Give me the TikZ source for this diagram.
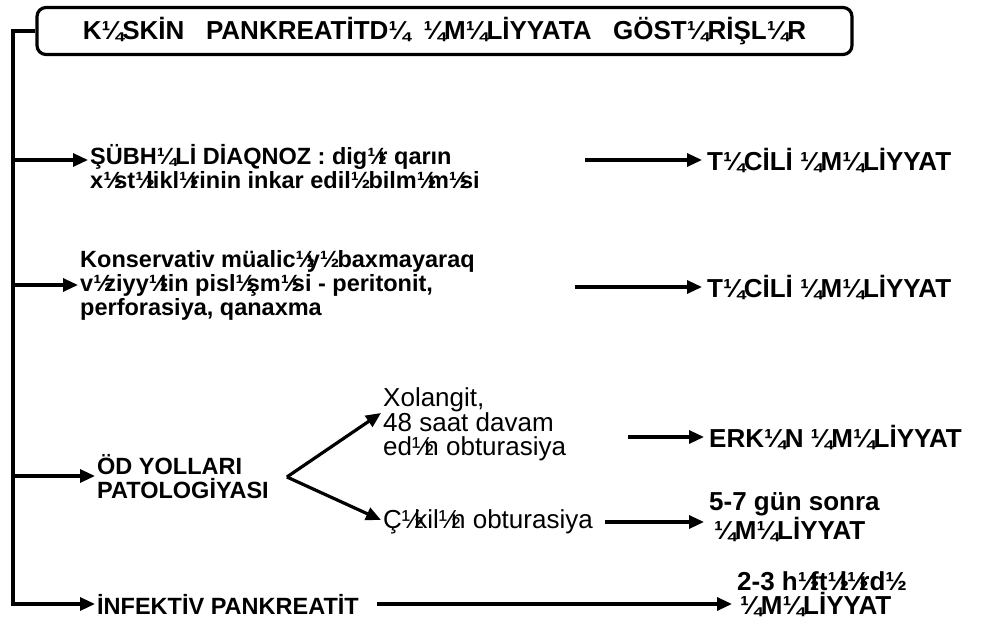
\documentclass[tikz,border=0pt]{standalone}
\usepackage{fontspec}
\setmainfont{Liberation Sans}
\usepackage{tikz}
\usetikzlibrary{positioning,calc,arrows.meta}

% garbled schwa glyphs as printed
\newcommand{\sw}{½\kern-.36em}
\newcommand{\Sw}{¼\kern-.04em}

\begin{document}
\begin{tikzpicture}[x=1pt, y=-1pt,
    headbox/.style={draw, line width=3.2pt, rounded corners=9pt, minimum width=815pt, minimum height=47pt, font=\fontsize{26}{30}\selectfont\bfseries},
    cause/.style={anchor=west, align=left, inner sep=2pt, font=\fontsize{23.5}{24}\selectfont\bfseries},
    note/.style={anchor=west, align=left, inner sep=2pt, font=\fontsize{26}{23.5}\selectfont},
    result/.style={anchor=west, align=left, inner sep=5pt, font=\fontsize{26}{24}\selectfont\bfseries},
    arr/.style={-{Triangle[length=15pt,width=13pt]}, line width=3.2pt},
]
    \fill[white] (0,0) rectangle (1004,636);
    \useasboundingbox (0,0) rectangle (1004,636);

    % Header
    \node[headbox] (title) at (444.5,31) {K\Sw SKİN\ \ \ PANKREATİTD\Sw\ \ \Sw M\Sw LİYYATA\ \ \ GÖST\Sw RİŞL\Sw R};

    % Left bus
    \coordinate (b1) at (13,160);
    \coordinate (b2) at (13,285);
    \coordinate (b3) at (13,476);
    \coordinate (b4) at (13,604);

    % Row 1
    \node[cause] (t1) at (88,167) {ŞÜBH\Sw Lİ DİAQNOZ : dig\sw r qarın\\x\sw st\sw likl\sw rinin inkar edil\sw\ bilm\sw m\sw si};
    \node[result] (a1) at (702,160) {T\Sw CİLİ \Sw M\Sw LİYYAT};
    \coordinate (s1) at (585,160);
    \draw[arr] (b1) -- (b1 -| t1.west);
    \draw[arr] (s1) -- (a1.west);

    % Row 2
    \node[cause] (t2) at (78,285) {Konservativ müalic\sw y\sw\ baxmayaraq\\v\sw ziyy\sw tin pisl\sw şm\sw si - peritonit,\\perforasiya, qanaxma};
    \node[result] (a2) at (702,287) {T\Sw CİLİ \Sw M\Sw LİYYAT};
    \coordinate (s2) at (575,287);
    \draw[arr] (b2) -- (t2.west);
    \draw[arr] (s2) -- (a2.west);

    % Row 3
    \node[cause] (t3) at (95,477) {ÖD YOLLARI\\PATOLOGİYASI};
    \coordinate (fk) at ([xshift=16pt]t3.east);
    \node[note] (x3a) at (381,424) {Xolangit,\\48 saat davam\\ed\sw n obturasiya};
    \node[note] (x3b) at (381,522) {Ç\sw kil\sw n obturasiya};
    \node[result] (a3) at (704,437) {ERK\Sw N \Sw M\Sw LİYYAT};
    \node[result] (d3) at (704,517) {5-7 gün sonra\\\hspace*{5pt}\Sw M\Sw LİYYAT};
    \coordinate (s3) at (628,437);
    \draw[arr] (b3) -- (b3 -| t3.west);
    \draw[arr] (fk) -- ($(x3a.west)+(0,-11)$);
    \draw[arr] (fk) -- ($(x3b.west)+(0,-2)$);
    \draw[arr] (s3) -- (a3.west);
    \draw[arr, shorten <=10pt] (x3b.east) -- (x3b.east -| d3.west);

    % Row 4
    \node[cause] (i4) at (95,604) {İNFEKTİV PANKREATİT};
    \node[result] (h4) at (732,594) {2-3 h\sw ft\sw l\sw rd\sw\\\hspace*{3pt}\Sw M\Sw LİYYAT};
    \draw[arr] (title.west) -| (b4) -- (i4.west);
    \draw[arr, shorten <=16pt] (i4.east) -- (i4.east -| h4.west);
\end{tikzpicture}
\end{document}
